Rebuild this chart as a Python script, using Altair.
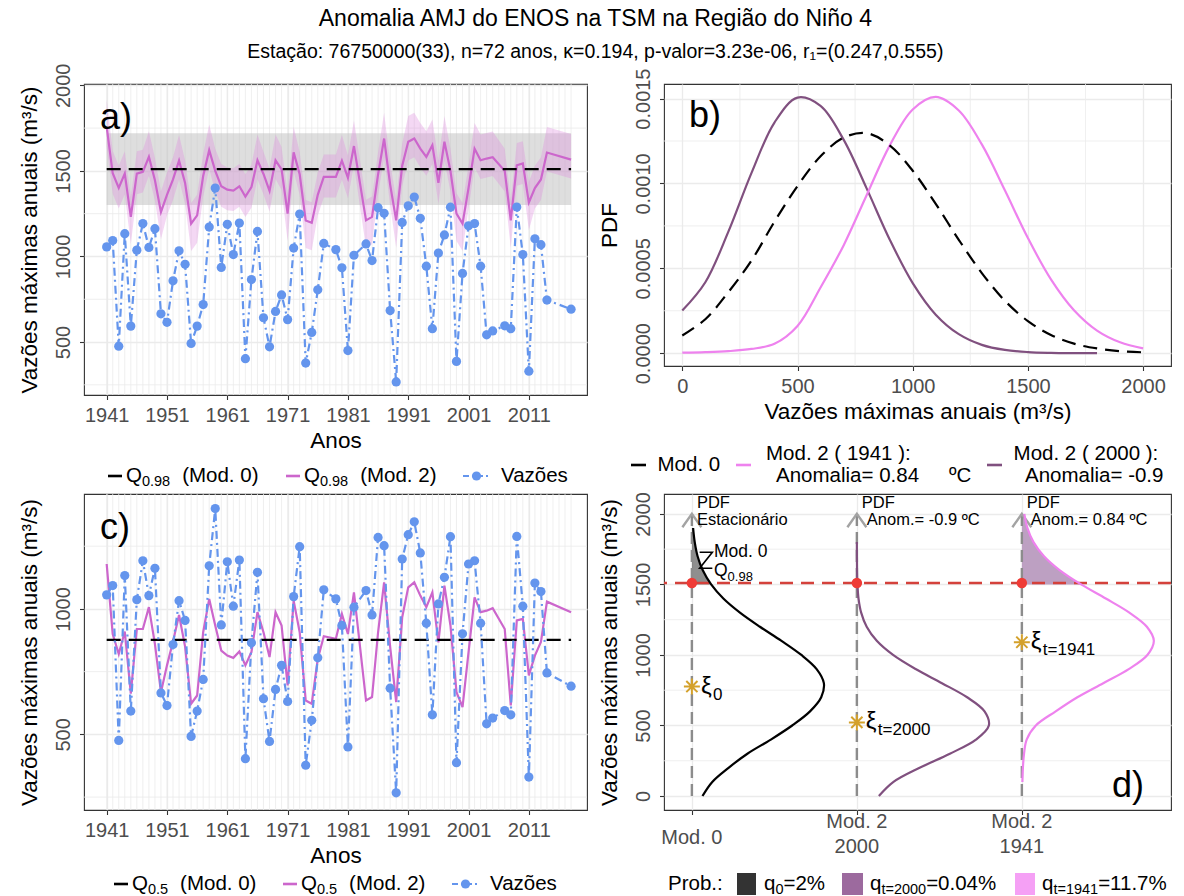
import altair as alt
import numpy as np
import pandas as pd

FONT = "Liberation Sans"
LFS = 20.5
SFS = 14.5
BLUE = "#6495ed"
PINK = "#cc66cc"
VIOLET = "#ee82ee"
PURPLE = "#80507f"
YT = "Vazões máximas anuais (m³/s)"

# ---------------- data: annual maxima and quantiles ----------------
years = [1941, 1942, 1943, 1944, 1945, 1946, 1947, 1948, 1949, 1950,
         1951, 1952, 1953, 1954, 1955, 1956, 1957, 1958, 1959, 1960,
         1961, 1962, 1963, 1964, 1965, 1966, 1967, 1968, 1969, 1970,
         1971, 1972, 1973, 1974, 1975, 1976, 1977, 1979, 1980, 1981,
         1982, 1984, 1985, 1986, 1987, 1988, 1989, 1990, 1991, 1992,
         1993, 1994, 1995, 1996, 1997, 1998, 1999, 2000, 2001, 2002,
         2003, 2004, 2005, 2007, 2008, 2009, 2010, 2011, 2012, 2013,
         2014, 2018]
flows = [1056, 1093, 476, 1133, 593, 1037, 1192, 1053, 1162, 665,
         615, 858, 1033, 954, 492, 593, 719, 1172, 1400, 936,
         1188, 1011, 1195, 403, 865, 1146, 642, 472, 679, 775,
         631, 1049, 1248, 377, 556, 805, 1076, 1040, 934, 450,
         1007, 1073, 976, 1285, 1252, 684, 267, 1199, 1296, 1347,
         1223, 943, 578, 1020, 1126, 1288, 387, 901, 1179, 1192,
         943, 542, 565, 595, 578, 1289, 1011, 330, 1103, 1069,
         745, 692]
q05_mod2 = [1179, 900, 820, 910, 662, 920, 920, 1007, 860, 668,
            775, 870, 976, 850, 622, 655, 907, 1040, 934, 834,
            814, 805, 830, 775, 828, 987, 907, 808, 987, 934,
            695, 1033, 907, 635, 622, 801, 891, 881, 980, 900,
            1066, 635, 649, 907, 1106, 850, 629, 967, 1086, 1106,
            1053, 1007, 1066, 867, 1093, 934, 668, 609, 828, 1046,
            987, 993, 1003, 920, 615, 954, 960, 735, 814, 868,
            1029, 987]
q98_mod2 = [1757, 1486, 1400, 1484, 1231, 1484, 1494, 1582, 1445, 1260,
            1360, 1450, 1560, 1430, 1192, 1240, 1470, 1621, 1500, 1410,
            1390, 1385, 1410, 1350, 1405, 1562, 1482, 1383, 1562, 1509,
            1250, 1608, 1480, 1210, 1197, 1360, 1465, 1465, 1560, 1460,
            1645, 1211, 1231, 1480, 1689, 1420, 1211, 1530, 1670, 1689,
            1630, 1582, 1650, 1430, 1670, 1500, 1250, 1192, 1400, 1630,
            1562, 1572, 1580, 1500, 1211, 1533, 1543, 1315, 1400, 1450,
            1607, 1566]
q98_mod2_hi = [1915, 1616, 1530, 1614, 1351, 1614, 1624, 1732, 1575, 1380,
               1490, 1580, 1710, 1560, 1312, 1360, 1600, 1771, 1630, 1540,
               1520, 1515, 1540, 1480, 1535, 1712, 1612, 1513, 1712, 1639,
               1370, 1758, 1610, 1330, 1317, 1490, 1595, 1595, 1710, 1590,
               1795, 1331, 1351, 1610, 1839, 1550, 1331, 1660, 1820, 1839,
               1780, 1732, 1800, 1560, 1820, 1630, 1370, 1312, 1530, 1780,
               1712, 1722, 1730, 1630, 1331, 1663, 1673, 1435, 1530, 1580,
               1757, 1716]
q98_mod2_lo = [1640, 1366, 1280, 1364, 1071, 1364, 1374, 1472, 1325, 1100,
               1240, 1330, 1450, 1310, 1032, 1080, 1350, 1511, 1380, 1290,
               1270, 1265, 1290, 1230, 1285, 1452, 1362, 1263, 1452, 1389,
               1090, 1498, 1360, 1050, 1037, 1240, 1345, 1345, 1450, 1340,
               1535, 1051, 1071, 1360, 1579, 1300, 1051, 1410, 1560, 1579,
               1520, 1472, 1540, 1310, 1560, 1380, 1090, 1032, 1280, 1520,
               1452, 1462, 1470, 1380, 1051, 1413, 1423, 1155, 1280, 1330,
               1497, 1456]
q98_mod0 = 1510
q98_mod0_lo = 1300
q98_mod0_hi = 1720
q05_mod0 = 877

# ---------------- data: PDFs (density x 1e-3) ----------------
pdf_flow = [0, 100, 200, 300, 400, 500, 600, 700, 800, 900, 1000,
            1100, 1200, 1300, 1400, 1500, 1600, 1700, 1800, 1900, 2000]
pdf_mod0_e3 = [0.104, 0.200, 0.360, 0.545, 0.775, 0.985, 1.160, 1.270, 1.296, 1.225, 1.075,
               0.880, 0.668, 0.472, 0.309, 0.189, 0.107, 0.056, 0.028, 0.012, 0.005]
pdf_m2000_e3 = [0.251, 0.418, 0.716, 1.061, 1.359, 1.506, 1.457, 1.258, 0.971, 0.670, 0.413,
                0.227, 0.112, 0.049, 0.019, 0.0065, 0.002, 0.0005, 0.0, None, None]
pdf_m1941_e3 = [0.003, 0.006, 0.012, 0.025, 0.055, 0.160, 0.387, 0.635, 0.931, 1.223, 1.436,
                1.510, 1.430, 1.230, 0.960, 0.678, 0.435, 0.253, 0.133, 0.064, 0.028]
model_pos = [1, 2, 3]
model_line1 = ["Mod. 0", "Mod. 2", "Mod. 2"]
model_line2 = ["", "2000", "1941"]
xi_values = [776, 522, 1090]
xi_subs = ["0", "t=2000", "t=1941"]

# ---------------- helpers ----------------
AW = {' ': 278, '%': 889, '(': 333, ')': 333, '.': 278, ',': 278, '-': 333, '/': 278,
      ':': 278, '=': 584, 'A': 667, 'C': 722, 'M': 833, 'P': 667, 'Q': 778, 'V': 667,
      'a': 556, 'b': 556, 'c': 500, 'd': 556, 'e': 556, 'i': 222, 'l': 222, 'm': 833,
      'n': 556, 'o': 556, 'q': 556, 'r': 333, 's': 500, 't': 278, 'u': 556, 'z': 500,
      'õ': 556, 'º': 365, 'ξ': 500}


def tw(s, fs):
    return sum(AW.get(ch, 556) for ch in s) * fs / 1000.0


ONE = pd.DataFrame({"k": [0]})


def txt(x, y, s, fs=LFS, color="black", align="left", baseline="middle"):
    return alt.Chart(ONE).mark_text(text=s, font=FONT, fontSize=fs, color=color,
                                    align=align, baseline=baseline).encode(
        x=alt.value(x), y=alt.value(y))


def seg(x1, x2, y, color, width=2.6, dash=None):
    kw = dict(color=color, strokeWidth=width)
    if dash is not None:
        kw["strokeDash"] = dash
    return alt.Chart(ONE).mark_rule(**kw).encode(x=alt.value(x1), x2=alt.value(x2), y=alt.value(y))


def dot(x, y, color, size=85):
    return alt.Chart(ONE).mark_circle(color=color, size=size, opacity=1).encode(
        x=alt.value(x), y=alt.value(y))


def box(x1, x2, y1, y2, color):
    return alt.Chart(ONE).mark_rect(color=color).encode(
        x=alt.value(x1), x2=alt.value(x2), y=alt.value(y1), y2=alt.value(y2))


df = pd.DataFrame({"year": years, "flow": flows, "q05": q05_mod2, "q98": q98_mod2,
                   "q98_lo": q98_mod2_lo, "q98_hi": q98_mod2_hi})
df["m0_q98"] = q98_mod0
df["m0_lo"] = q98_mod0_lo
df["m0_hi"] = q98_mod0_hi
df["m0_q05"] = q05_mod0


def ts_legend(y, keys, sub, gap):
    L = []
    subw = tw(sub, SFS)
    for kx, col, lab in [(keys[0], "black", "(Mod. 0)"), (keys[1], PINK, "(Mod. 2)")]:
        L.append(seg(kx, kx + 14, y, col))
        L.append(txt(kx + 18, y, "Q"))
        L.append(txt(kx + 18 + tw("Q", LFS), y + 6, sub, SFS))
        L.append(txt(kx + 18 + tw("Q", LFS) + subw + gap, y, lab))
    kb = keys[2]
    L.append(seg(kb, kb + 27, y, BLUE, 2.2, [6, 3, 2, 3]))
    L.append(dot(kb + 13.5, y, BLUE, 85))
    L.append(txt(kb + 38, y, "Vazões"))
    return L


def ts_panel(ydom, yvals, yminor, mod2_col, mod0_col, bands, letter, sub, leg_y, keys, h):
    xs = alt.Scale(domain=[1937.24, 2020.64], nice=False, zero=False)
    xax = alt.Axis(values=list(range(1941, 2012, 10)), format="d", title="Anos",
                   labelFlush=False, labelOverlap=False)
    ys = alt.Scale(domain=ydom, nice=False, zero=False)
    yax = alt.Axis(values=yvals, format="d", title=YT, labelOverlap=False, labelFlush=False)

    def X(f):
        return alt.X(f, type="quantitative", scale=xs, axis=xax)

    def Y(f):
        return alt.Y(f, type="quantitative", scale=ys, axis=yax)

    layers = [
        alt.Chart(pd.DataFrame({"year": list(range(1941, 2019))})).mark_rule(
            color="#ebebeb", strokeWidth=0.8).encode(x=X("year")),
        alt.Chart(pd.DataFrame({"v": yminor})).mark_rule(
            color="#ebebeb", strokeWidth=0.8).encode(y=Y("v")),
    ]
    base = alt.Chart(df)
    if bands:
        layers.append(base.mark_area(color="#bdbdbd", opacity=0.5).encode(
            x=X("year"), y=Y("m0_lo"), y2="m0_hi"))
        layers.append(base.mark_area(color="#dd88dd", opacity=0.33).encode(
            x=X("year"), y=Y("q98_lo"), y2="q98_hi"))
    layers += [
        base.mark_line(color=PINK, strokeWidth=2.2).encode(x=X("year"), y=Y(mod2_col)),
        base.mark_line(color="black", strokeWidth=2.2, strokeDash=[14, 8]).encode(
            x=X("year"), y=Y(mod0_col)),
        base.mark_line(color=BLUE, strokeWidth=2.2, strokeDash=[8, 4, 2, 4]).encode(
            x=X("year"), y=Y("flow")),
        base.mark_circle(color=BLUE, size=85, opacity=1).encode(x=X("year"), y=Y("flow")),
        txt(16, 34, letter, 36),
    ]
    layers += ts_legend(leg_y, keys, sub, 12)
    return alt.layer(*layers).properties(width=503, height=h)


pa = ts_panel([190.6, 2007.6], [500, 1000, 1500, 2000], [250, 750, 1250, 1750],
              "q98", "m0_q98", True, "a)", "0.98", 392, [24, 202, 379], 311)
pc = ts_panel([198.6, 1458], [500, 1000], [250, 750, 1250],
              "q05", "m0_q05", False, "c)", "0.5", 390, [30, 199, 368], 316)

# ---------------- panel b ----------------
pdf_df = pd.DataFrame({"flow": pdf_flow,
                       "mod0": [v * 1e-3 for v in pdf_mod0_e3],
                       "m2000": [np.nan if v is None else v * 1e-3 for v in pdf_m2000_e3],
                       "m1941": [v * 1e-3 for v in pdf_m1941_e3]})

xbs = alt.Scale(domain=[-79.4, 2121], nice=False, zero=False)
xba = alt.Axis(values=[0, 500, 1000, 1500, 2000], format="d", title=YT,
               labelFlush=False, labelOverlap=False)
ybs = alt.Scale(domain=[-0.0000755, 0.001586], nice=False, zero=False)
yba = alt.Axis(values=[0, 0.0005, 0.001, 0.0015], format=".4f", title="PDF",
               labelOverlap=False, labelFlush=False)


def XB(f):
    return alt.X(f, type="quantitative", scale=xbs, axis=xba)


def YB(f):
    return alt.Y(f, type="quantitative", scale=ybs, axis=yba)


b_layers = [
    alt.Chart(pd.DataFrame({"v": [250, 750, 1250, 1750]})).mark_rule(
        color="#ebebeb", strokeWidth=0.8).encode(x=XB("v")),
    alt.Chart(pd.DataFrame({"d": [0.00025, 0.00075, 0.00125]})).mark_rule(
        color="#ebebeb", strokeWidth=0.8).encode(y=YB("d")),
    alt.Chart(pdf_df[["flow", "m2000"]].dropna()).mark_line(
        color=PURPLE, strokeWidth=2.2, interpolate="catmull-rom").encode(x=XB("flow"), y=YB("m2000")),
    alt.Chart(pdf_df).mark_line(color=VIOLET, strokeWidth=2.2, interpolate="catmull-rom").encode(
        x=XB("flow"), y=YB("m1941")),
    alt.Chart(pdf_df).mark_line(color="black", strokeWidth=2.2, strokeDash=[14, 8],
                                interpolate="catmull-rom").encode(x=XB("flow"), y=YB("mod0")),
    txt(25, 32, "b)", 36),
    # legend (Mod. 0 / Mod. 2 1941 / Mod. 2 2000)
    seg(-33, -18, 381, "black"),
    txt(-6.5, 381, "Mod. 0"),
    seg(72, 87, 381, VIOLET),
    txt(102, 370, "Mod. 2 ( 1941 ):"),
    txt(112, 392, "Anomalia= 0.84"),
    txt(285, 392, "ºC"),
    seg(323, 338, 381, PURPLE),
    txt(349.6, 370, "Mod. 2 ( 2000 ):"),
    txt(361, 392, "Anomalia= -0.9"),
]
pb = alt.layer(*b_layers).properties(width=507, height=282)

# ---------------- panel d ----------------
xds = alt.Scale(domain=[0.831, 3.904], nice=False, zero=False)
xda = alt.Axis(values=model_pos, title="", labels=False)
yds = alt.Scale(domain=[-99, 2141], nice=False, zero=False)
yda = alt.Axis(values=[0, 500, 1000, 1500, 2000], format="d", title=YT,
               labelOverlap=False, labelFlush=False)


def XD(f):
    return alt.X(f, type="quantitative", scale=xds, axis=xda)


def YD(f):
    return alt.Y(f, type="quantitative", scale=yds, axis=yda)


curve_specs = [("mod0", 1, 0, 1900), ("m2000", 2, 0, 1800), ("m1941", 3, 100, 2000)]
curves = []
tails = {}
for col, pos, fmin, fmax in curve_specs:
    sub = pdf_df[(pdf_df.flow >= fmin) & (pdf_df.flow <= fmax)][["flow", col]].dropna()
    peak = pdf_df[col].max()
    c = pd.DataFrame({"flow": sub.flow, "cx": pos + 0.8 * sub[col] / peak, "base": pos, "model": col})
    curves.append(c)
    tails[col] = c[c.flow >= 1500]
curves_df = pd.concat(curves, ignore_index=True)

models_df = pd.DataFrame({"pos": model_pos, "xi": xi_values, "xisub": xi_subs,
                          "line1": model_line1, "line2": model_line2,
                          "q": q98_mod0, "zero": 0, "top": 2000})

chev = "M -1 1.4 L 0 0 L 1 1.4"
star = "M -1 0 L 1 0 M 0 -1 L 0 1 M -0.7 -0.7 L 0.7 0.7 M -0.7 0.7 L 0.7 -0.7"

z_df = pd.DataFrame({"zx": [1.047, 1.124, 1.047, 1.124], "zy": [1728, 1728, 1615, 1615], "i": [0, 1, 2, 3]})

DX0 = 665
PFS = 16.5


def d_text(subset, text, dx, yval):
    return alt.Chart(subset).mark_text(
        text=text, font=FONT, fontSize=PFS, align="left", baseline="middle", dx=dx,
        color="black").encode(x=XD("pos"), y=alt.Y("ly:Q", scale=yds, axis=yda)).transform_calculate(
        ly=str(yval))


d_layers = [
    alt.Chart(pd.DataFrame({"v": [250, 750, 1250, 1750]})).mark_rule(
        color="#ebebeb", strokeWidth=0.8).encode(y=YD("v")),
    alt.Chart(tails["mod0"]).mark_area(orient="horizontal", color="#333333", opacity=0.55,
                                       interpolate="catmull-rom").encode(
        y=YD("flow"), x=XD("cx"), x2="base"),
    alt.Chart(tails["m1941"]).mark_area(orient="horizontal", color="#b99bbf", opacity=0.95,
                                        interpolate="catmull-rom").encode(
        y=YD("flow"), x=XD("cx"), x2="base"),
    alt.Chart(pd.DataFrame({"q": [q98_mod0]})).mark_rule(
        color="#d4413b", strokeDash=[13, 8], strokeWidth=2.4).encode(y=YD("q")),
    alt.Chart(models_df).mark_rule(color="#8c8c8c", strokeDash=[12, 6], strokeWidth=2.4).encode(
        x=XD("pos"), y=YD("zero"), y2="top"),
    alt.Chart(models_df).mark_point(shape=chev, filled=False, size=361, strokeWidth=2.4,
                                    color="#a3a3a3", opacity=1).encode(x=XD("pos"), y=YD("top")),
    alt.Chart(curves_df).mark_line(strokeWidth=2.2, interpolate="catmull-rom").encode(
        x=XD("cx"), y=YD("flow"), order="flow:Q",
        color=alt.Color("model:N", scale=alt.Scale(domain=["mod0", "m2000", "m1941"],
                                                   range=["black", PURPLE, VIOLET]), legend=None)),
    alt.Chart(models_df).mark_circle(color="#ef3b36", size=110, opacity=1).encode(
        x=XD("pos"), y=YD("q")),
    alt.Chart(models_df).mark_point(shape=star, filled=False, size=256, strokeWidth=2,
                                    color="#d4a12b", opacity=1).encode(x=XD("pos"), y=YD("xi")),
    alt.Chart(models_df).mark_text(text="ξ", font=FONT, fontSize=24, align="left",
                                   baseline="middle", dx=9, color="black").encode(
        x=XD("pos"), y=YD("xi")),
    alt.Chart(models_df).mark_text(font=FONT, fontSize=17, align="left", baseline="middle",
                                   dx=21, dy=8, color="black").encode(
        x=XD("pos"), y=YD("xi"), text="xisub:N"),
    d_text(models_df, "PDF", 5, 2075),
    d_text(models_df[models_df.pos == 1], "Estacionário", 5, 1955),
    d_text(models_df[models_df.pos == 2], "Anom.= -0.9 ºC", 10, 1955),
    d_text(models_df[models_df.pos == 3], "Anom.= 0.84 ºC", 9, 1955),
    alt.Chart(z_df).mark_line(color="black", strokeWidth=1.6).encode(
        x=XD("zx"), y=YD("zy"), order="i:Q"),
    txt(715 - DX0, 550 - 492, "Mod. 0", 17.5),
    txt(715 - DX0, 569 - 492, "Q", 17.5),
    txt(715 - DX0 + tw("Q", 17.5), 575 - 492, "0.98", 13),
    txt(1113 - DX0, 292, "d)", 36),
    # category labels under the axis
    alt.Chart(models_df[models_df.pos == 1]).mark_text(
        font=FONT, fontSize=20, color="#4d4d4d", align="center", baseline="middle").encode(
        x=XD("pos"), y=alt.value(344), text="line1:N"),
    alt.Chart(models_df[models_df.pos > 1]).mark_text(
        font=FONT, fontSize=20, color="#4d4d4d", align="center", baseline="middle").encode(
        x=XD("pos"), y=alt.value(328), text="line1:N"),
    alt.Chart(models_df[models_df.pos > 1]).mark_text(
        font=FONT, fontSize=20, color="#4d4d4d", align="center", baseline="middle").encode(
        x=XD("pos"), y=alt.value(353), text="line2:N"),
    # bottom legend (Prob.)
    txt(669 - DX0, 390, "Prob.:"),
    box(738 - DX0, 757 - DX0, 379, 401, "#333333"),
    txt(765 - DX0, 390, "q"),
    txt(765 - DX0 + tw("q", LFS), 396, "0", SFS),
    txt(765 - DX0 + tw("q", LFS) + tw("0", SFS), 390, "=2%"),
    box(843 - DX0, 864 - DX0, 379, 401, "#9c6a9e"),
    txt(871 - DX0, 390, "q"),
    txt(871 - DX0 + tw("q", LFS), 396, "t=2000", SFS),
    txt(871 - DX0 + tw("q", LFS) + tw("t=2000", SFS), 390, "=0.04%"),
    box(1016 - DX0, 1036 - DX0, 379, 401, "#f5a0f5"),
    txt(1043 - DX0, 390, "q"),
    txt(1043 - DX0 + tw("q", LFS), 396, "t=1941", SFS),
    txt(1043 - DX0 + tw("q", LFS) + tw("t=1941", SFS), 390, "=11.7%"),
]
pdd = alt.layer(*d_layers).properties(width=507, height=316)

chart = alt.concat(pa, pb, pc, pdd, columns=2, bounds="flush",
                   spacing={"row": 99, "column": 77}).properties(
    title=alt.TitleParams(
        text="Anomalia AMJ do ENOS na TSM na Região do Niño 4",
        subtitle="Estação: 76750000(33), n=72 anos, κ=0.194, p-valor=3.23e-06, r₁=(0.247,0.555)",
        anchor="middle", font=FONT, fontSize=23, fontWeight="normal", color="black",
        subtitleFont=FONT, subtitleFontSize=19.5, subtitleColor="black",
        subtitlePadding=12, offset=1),
    padding={"left": 17, "top": 8, "right": 4, "bottom": 4},
).configure_view(
    stroke="#333333", strokeWidth=1.1
).configure_axis(
    domain=False, tickColor="#333333", tickSize=4.5, tickWidth=1.1,
    gridColor="#ebebeb", gridWidth=1.3,
    labelColor="#4d4d4d", labelFont=FONT, labelFontSize=20,
    titleFont=FONT, titleFontSize=22.5, titleFontWeight="normal", titleColor="black"
).configure_axisX(
    labelPadding=6, titlePadding=4
).configure_axisY(
    labelAngle=270, labelAlign="center", labelBaseline="bottom", labelPadding=6, titlePadding=12
)

chart.save("out.html", embed_options={"renderer": "svg", "actions": False})
